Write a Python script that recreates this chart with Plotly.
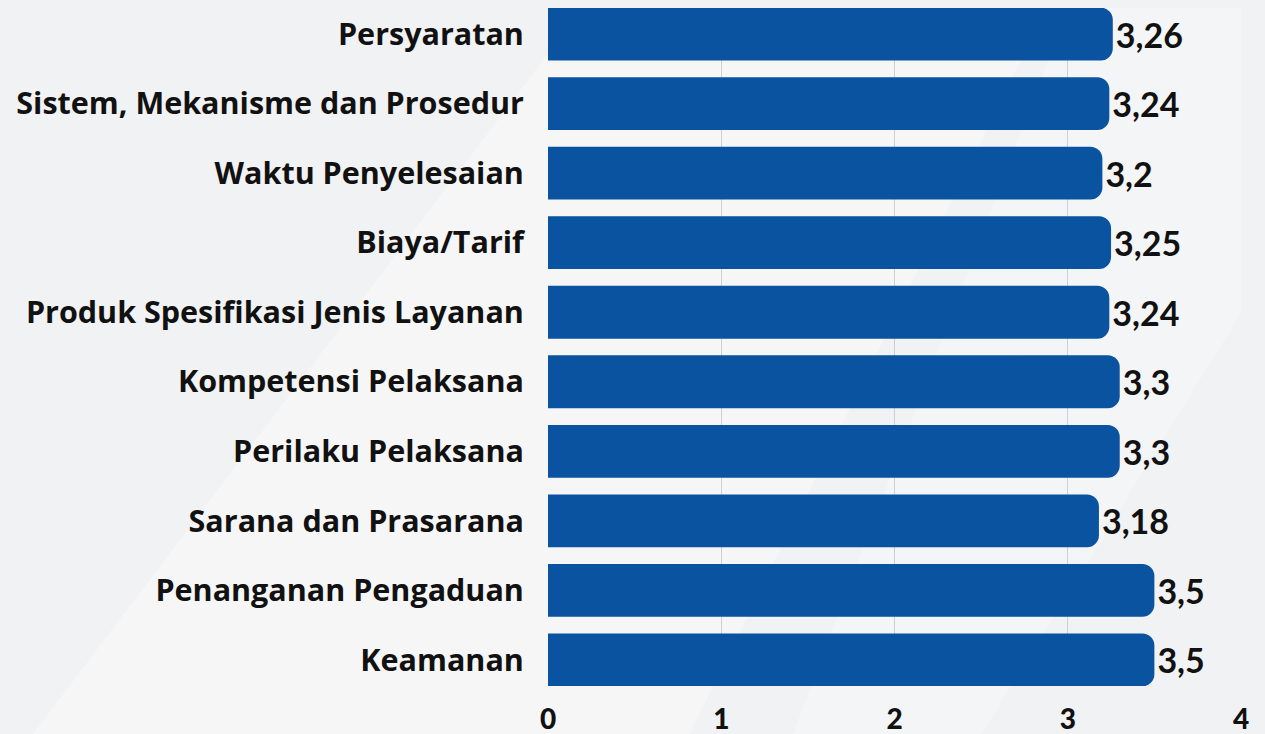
import plotly.graph_objects as go

categories = [
    "Persyaratan",
    "Sistem, Mekanisme dan Prosedur",
    "Waktu Penyelesaian",
    "Biaya/Tarif",
    "Produk Spesifikasi Jenis Layanan",
    "Kompetensi Pelaksana",
    "Perilaku Pelaksana",
    "Sarana dan Prasarana",
    "Penanganan Pengaduan",
    "Keamanan",
]
values = [3.26, 3.24, 3.2, 3.25, 3.24, 3.3, 3.3, 3.18, 3.5, 3.5]
value_labels = [("%g" % v).replace(".", ",") for v in values]
x_ticks = [0, 1, 2, 3, 4]

fig = go.Figure()
fig.add_trace(go.Bar(
    y=categories,
    x=values,
    orientation="h",
    width=0.76,
    marker=dict(color="#0a53a1", cornerradius=12, line=dict(width=0)),
    text=value_labels,
    textposition="outside",
    cliponaxis=False,
    textfont=dict(family="Lato", size=34, color="#111111", weight="bold"),
    hoverinfo="skip",
))

# background decoration (subtle diagonal light streaks)
shapes = [
    dict(type="path", xref="paper", yref="paper",
         path="M 0.05 1 L 0.72 1 L 0.20 -0.08 L -0.75 -0.08 Z",
         fillcolor="rgba(255,255,255,0.35)", line=dict(width=0), layer="below"),
    dict(type="path", xref="paper", yref="paper",
         path="M 0.75 1 L 1.0 1 L 1.0 0.55 L 0.62 -0.08 L 0.35 -0.08 Z",
         fillcolor="rgba(255,255,255,0.25)", line=dict(width=0), layer="below"),
]

fig.update_layout(
    width=1265, height=734,
    margin=dict(l=548, r=24, t=8, b=48, autoexpand=False),
    paper_bgcolor="#f1f2f3",
    plot_bgcolor="rgba(0,0,0,0)",
    showlegend=False,
    shapes=shapes,
    xaxis=dict(
        range=[0, 4], tickvals=x_ticks, ticktext=[str(t) for t in x_ticks],
        showgrid=True, gridcolor="#cdd0d3", gridwidth=1, zeroline=False,
        ticks="outside", ticklen=8, tickcolor="rgba(0,0,0,0)",
        tickfont=dict(family="Lato", size=28, color="#111111", weight=900),
        showline=False, automargin=False,
    ),
    yaxis=dict(
        categoryorder="array", categoryarray=categories,
        range=[9.375, -0.375],
        ticks="outside", ticklen=17, tickcolor="rgba(0,0,0,0)",
        tickfont=dict(family="Open Sans", size=30.5, color="#111111", weight="bold"),
        showgrid=False, zeroline=False, showline=False, automargin=False,
    ),
)

fig.write_html("out.html")
